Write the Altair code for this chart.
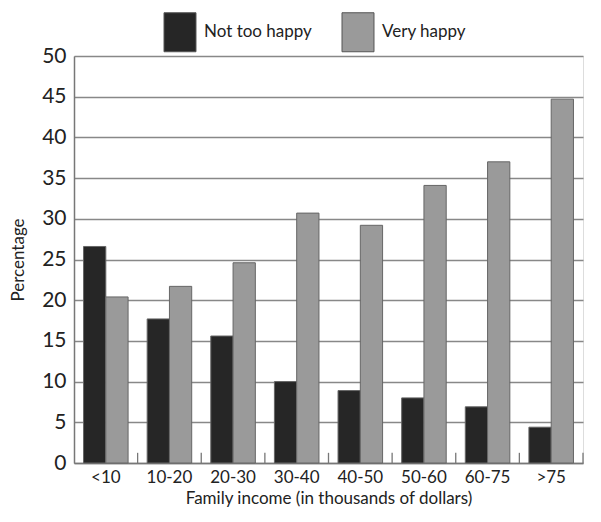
import altair as alt
import pandas as pd

categories = ["<10", "10-20", "20-30", "30-40", "40-50", "50-60", "60-75", ">75"]
series = ["Not too happy", "Very happy"]
not_too_happy = [26.6, 17.7, 15.6, 10.0, 8.9, 8.0, 6.9, 4.4]
very_happy = [20.4, 21.7, 24.6, 30.7, 29.2, 34.1, 37.0, 44.7]
y_ticks = [0, 5, 10, 15, 20, 25, 30, 35, 40, 45, 50]

rows = []
for c, a, b in zip(categories, not_too_happy, very_happy):
    rows.append({"income": c, "group": series[0], "pct": a})
    rows.append({"income": c, "group": series[1], "pct": b})
df = pd.DataFrame(rows)
ticks_df = pd.DataFrame({"income": categories})

FONT = "Lato"

x_enc = alt.X(
    "income:N",
    sort=categories,
    scale=alt.Scale(paddingInner=0.3, paddingOuter=0.15),
    axis=alt.Axis(
        title="Family income (in thousands of dollars)",
        labelAngle=0,
        labelFontSize=17,
        titleFontSize=17,
        labelPadding=6,
        titlePadding=5,
        ticks=False,
        domainColor="#777777",
        domainWidth=1.5,
        labelColor="#222222",
        titleColor="#222222",
        labelFont=FONT,
        titleFont=FONT,
        titleFontWeight="normal",
    ),
)

y_scale = alt.Scale(domain=[0, 50], nice=False)

bars = alt.Chart(df).mark_bar(stroke="#666666", strokeWidth=1).encode(
    x=x_enc,
    xOffset=alt.XOffset("group:N", sort=series, scale=alt.Scale(paddingInner=0, paddingOuter=0)),
    y=alt.Y(
        "pct:Q",
        scale=y_scale,
        axis=alt.Axis(
            title="Percentage",
            values=y_ticks,
            labelFontSize=21,
            titleFontSize=17,
            labelPadding=8,
            titlePadding=14,
            ticks=False,
            grid=True,
            gridColor="#888888",
            gridWidth=1.4,
            domainColor="#777777",
            domainWidth=1.5,
            labelColor="#222222",
            titleColor="#222222",
            labelFont=FONT,
            titleFont=FONT,
            titleFontWeight="normal",
        ),
    ),
    color=alt.Color(
        "group:N",
        sort=series,
        scale=alt.Scale(domain=series, range=["#262626", "#9a9a9a"]),
        legend=alt.Legend(
            title=None,
            orient="none",
            direction="horizontal",
            legendX=86,
            legendY=-44,
            padding=0,
            symbolType="M-0.82,-1H0.82V1H-0.82Z",
            symbolSize=1521,
            symbolStrokeColor="#555555",
            symbolStrokeWidth=1,
            symbolOpacity=1,
            labelFontSize=17,
            labelFont=FONT,
            labelColor="#222222",
            labelOffset=4,
            columnPadding=26,
        ),
    ),
)

tick_marks = alt.Chart(ticks_df).mark_rule(color="#777777", strokeWidth=1.3, xOffset=9.54).encode(
    x=alt.X("income:N", sort=categories, bandPosition=1),
    y=alt.datum(0, scale=y_scale),
    y2=alt.datum(1.25),
)

chart = alt.layer(bars, tick_marks).properties(
    width=509,
    height=407,
    autosize=alt.AutoSizeParams(type="none"),
    padding={"left": 66, "top": 48, "right": 6, "bottom": 50},
).configure_view(stroke=None).configure(font=FONT)

chart.save("out.html", embed_options={"renderer": "svg", "actions": False})
